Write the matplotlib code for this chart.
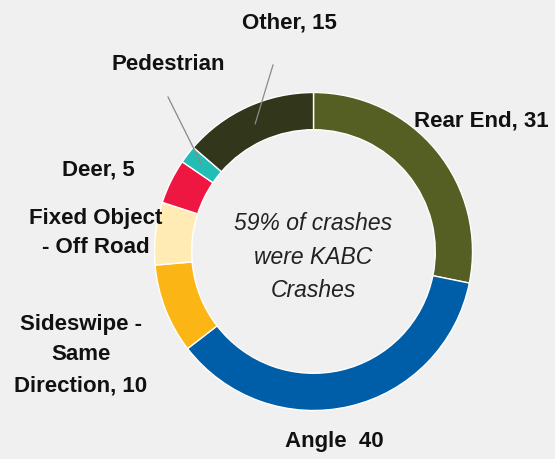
import matplotlib.pyplot as plt
import numpy as np

# crash types, clockwise from 12 o'clock
tipos = ["Rear End", "Angle", "Sideswipe - Same Direction", "Fixed Object - Off Road",
         "Deer", "Pedestrian", "Other"]
conteo = [31, 40, 10, 7, 5, 2, 15]
colores = ["#555E23", "#005EA8", "#FBB615", "#FFEBB3", "#EE1742", "#22BDB5", "#32361A"]
etiquetas = ["Rear End, 31", "Angle  40", "Sideswipe -\nSame\nDirection, 10",
             "Fixed Object\n- Off Road", "Deer, 5", "Pedestrian", "Other, 15"]
texto_centro = "59% of crashes\nwere KABC\nCrashes"

W, H = 555, 459
fig = plt.figure(figsize=(W / 100, H / 100), dpi=100, facecolor="#F0F0F0")
ax = fig.add_axes([0, 0, 1, 1])
ax.set_facecolor("#F0F0F0")

cx, cy, R = 313.5, H - 251.5, 159
ancho = 0.234
cunas, _ = ax.pie(conteo, colors=colores, startangle=90, counterclock=False,
                  center=(cx, cy), radius=R, frame=True,
                  wedgeprops=dict(width=R * ancho, edgecolor="white", linewidth=1))
ax.set_xlim(0, W)
ax.set_ylim(0, H)
ax.axis("off")

fuente = dict(family=["Liberation Sans", "DejaVu Sans"], fontweight="bold",
              fontsize=16, color="#111111")

# label positions (pixels from the top-left corner) and line spacing
pos = {
    "Rear End": (481, 121, 1.3),
    "Angle": (334, 442, 1.3),
    "Sideswipe - Same Direction": (81, 355, 1.62),
    "Fixed Object - Off Road": (96, 233, 1.53),
    "Deer": (98, 170, 1.3),
    "Pedestrian": (168, 65, 1.3),
    "Other": (289, 23, 1.3),
}
for t, et in zip(tipos, etiquetas):
    x, y, ls = pos[t]
    ax.text(x, H - y, et, ha="center", va="center", linespacing=ls, **fuente)

# leader lines for the two small wedges at the top
inicio_linea = {"Pedestrian": (168, 97), "Other": (273, 65)}
for t, w in zip(tipos, cunas):
    if t in inicio_linea:
        th = np.deg2rad((w.theta1 + w.theta2) / 2)
        rm = R * (1 - ancho / 2)
        x0, y0 = inicio_linea[t]
        ax.plot([x0, cx + rm * np.cos(th)], [H - y0, cy + rm * np.sin(th)],
                color="#8A8A8A", lw=0.9)

ax.text(cx, H - 257, texto_centro, ha="center", va="center", fontsize=16.5,
        style="italic", family=["Liberation Sans", "DejaVu Sans"], color="#222222",
        linespacing=1.58)

fig.savefig("out.png", dpi=100, facecolor=fig.get_facecolor())
